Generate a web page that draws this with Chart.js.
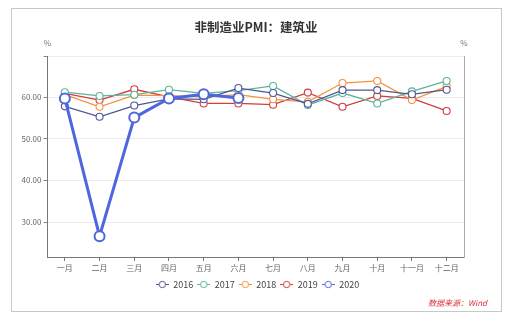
<!DOCTYPE html>
<html>
<head>
<meta charset="utf-8">
<script src="https://cdn.jsdelivr.net/npm/chart.js@4/dist/chart.umd.min.js"></script>
<style>
  html, body { margin: 0; padding: 0; background: #fff; }
  #wrap { position: relative; width: 515px; height: 325px; }
  #frame { position: absolute; left: 11px; top: 8px; width: 489px; height: 302px; border: 1px solid #c8c8c8; pointer-events: none; }
  #source { position: absolute; left: 428px; top: 297px; font: italic 8px "Noto Sans CJK SC", sans-serif; color: #d9303a; }
</style>
</head>
<body>
<div id="wrap">
  <canvas id="pmiChart" width="515" height="325"></canvas>
  <div id="frame"></div>
  <div id="source">数据来源：Wind</div>
</div>
<script>
const months = ['一月', '二月', '三月', '四月', '五月', '六月', '七月', '八月', '九月', '十月', '十一月', '十二月'];
const yTicks = [30, 40, 50, 60];
const s2016 = [57.8, 55.3, 58.0, 59.6, 59.5, 62.2, 61.0, 58.4, 61.7, 61.7, 60.7, 61.8];
const s2017 = [61.2, 60.3, 60.6, 61.8, 60.9, 61.6, 62.7, 58.1, 61.0, 58.5, 61.4, 63.9];
const s2018 = [60.6, 57.7, 60.5, 60.4, 60.1, 60.6, 59.5, 58.9, 63.4, 63.9, 59.3, 62.6];
const s2019 = [60.9, 59.3, 61.9, 60.1, 58.5, 58.5, 58.2, 61.1, 57.7, 60.3, 59.7, 56.7];
const s2020 = [59.7, 26.6, 55.1, 59.7, 60.7, 59.8];

const yMin = 21.6;
const yMax = 69.9;
const font = '"Noto Sans CJK SC", "Noto Sans", sans-serif';

// small "-o-" marker for the legend
function legendIcon(color) {
  const c = document.createElement('canvas');
  c.width = 13; c.height = 9;
  const g = c.getContext('2d');
  g.strokeStyle = color;
  g.lineWidth = 1;
  g.beginPath(); g.moveTo(0, 4.5); g.lineTo(13, 4.5); g.stroke();
  g.fillStyle = '#fff';
  g.beginPath(); g.arc(6.5, 4.5, 3.2, 0, Math.PI * 2); g.fill(); g.stroke();
  return c;
}

function series(label, data, color, order, big) {
  return {
    label: label,
    data: data,
    borderColor: color,
    backgroundColor: '#fff',
    pointBackgroundColor: '#fff',
    pointBorderColor: color,
    borderWidth: big ? 3 : 1.3,
    pointRadius: big ? 5 : 3.5,
    pointBorderWidth: big ? 2 : 1.1,
    pointStyle: 'circle',
    tension: 0,
    order: order
  };
}

// title, unit labels
const decorations = {
  id: 'decorations',
  afterDraw(chart) {
    const ctx = chart.ctx;
    const a = chart.chartArea;
    ctx.save();
    ctx.fillStyle = '#333';
    ctx.font = 'bold 12.5px ' + font;
    ctx.textAlign = 'center';
    ctx.textBaseline = 'middle';
    ctx.fillText('非制造业PMI：建筑业', 256, 27);
    ctx.fillStyle = '#777';
    ctx.font = '8px ' + font;
    ctx.fillText('%', a.left, 43);
    ctx.fillText('%', a.right, 43);
    ctx.restore();
  }
};

new Chart(document.getElementById('pmiChart'), {
  type: 'line',
  data: {
    labels: months,
    datasets: [
      series('2016', s2016, '#515793', 1),
      series('2017', s2017, '#5cb49d', 2),
      series('2018', s2018, '#f7913d', 3),
      series('2019', s2019, '#d43c3e', 4),
      series('2020', s2020, '#4e67dc', 0, true)
    ]
  },
  options: {
    responsive: false,
    animation: false,
    layout: { padding: { top: 56, bottom: 26, left: 0, right: 0 } },
    plugins: {
      legend: {
        position: 'bottom',
        labels: {
          usePointStyle: true,
          pointStyleWidth: 13,
          color: '#444',
          font: { size: 9, family: font },
          padding: 4,
          boxHeight: 9,
          generateLabels: (chart) => chart.data.datasets.map((ds, i) => ({
            text: ds.label,
            datasetIndex: i,
            pointStyle: legendIcon(ds.borderColor),
            fillStyle: '#fff',
            strokeStyle: ds.borderColor,
            fontColor: '#444',
            lineWidth: 0,
            hidden: !chart.isDatasetVisible(i)
          }))
        }
      },
      tooltip: { enabled: false }
    },
    scales: {
      x: {
        offset: true,
        grid: { display: true, drawOnChartArea: false, drawTicks: true, tickLength: 4, offset: false, color: '#777' },
        border: { color: '#777', width: 1 },
        ticks: { color: '#666', font: { size: 8, family: font }, padding: 2, maxRotation: 0, autoSkip: false },
        afterFit: (s) => { s.height = 19; }
      },
      y: {
        min: yMin,
        max: yMax,
        afterBuildTicks: (s) => {
          s.ticks = yTicks.map(v => ({ value: v })).concat([{ value: yMax }]);
        },
        grid: { color: '#ececec', tickLength: 4, tickColor: '#888' },
        border: { color: '#777', width: 1 },
        ticks: {
          color: '#666',
          font: { size: 8, family: font },
          padding: 2,
          callback: (v) => (v === yMax ? '' : Number(v).toFixed(2))
        },
        afterFit: (s) => { s.width = 47.5; }
      },
      y2: {
        position: 'right',
        min: yMin,
        max: yMax,
        grid: { drawOnChartArea: false, drawTicks: false },
        border: { color: '#aaa', width: 1 },
        ticks: { display: false },
        afterFit: (s) => { s.width = 51; }
      }
    }
  },
  plugins: [decorations]
});
</script>
</body>
</html>
